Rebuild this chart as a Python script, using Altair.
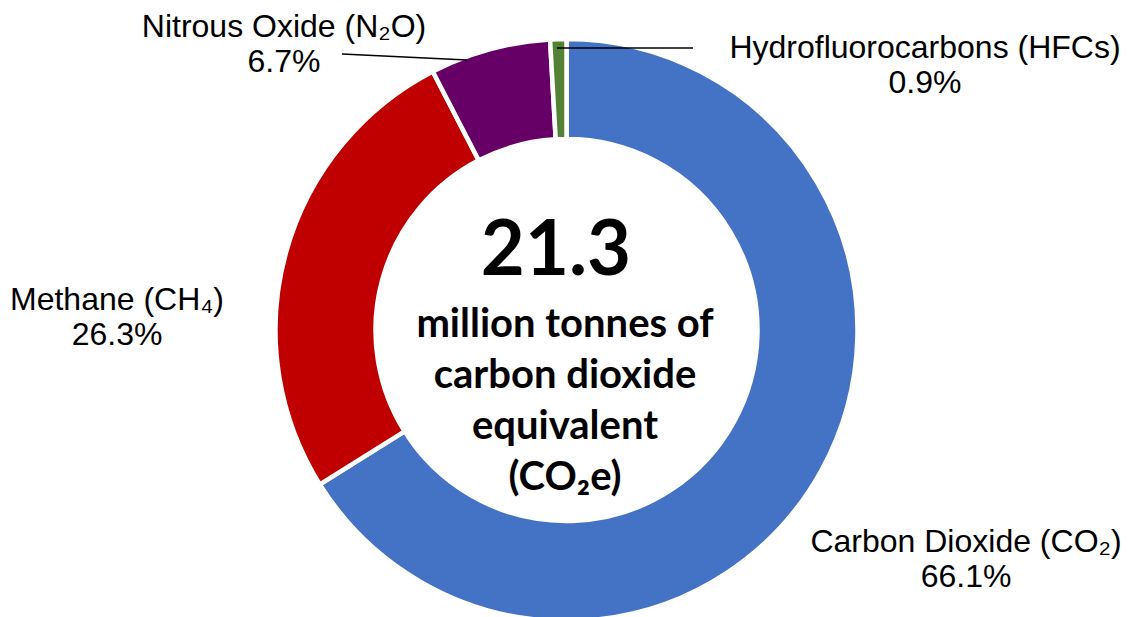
import altair as alt
import pandas as pd

# ---- data ----
gases = ["Carbon Dioxide (CO₂)", "Methane (CH₄)", "Nitrous Oxide (N₂O)", "Hydrofluorocarbons (HFCs)"]
shares = [66.1, 26.3, 6.7, 0.9]
colors = ["#4472C4", "#C00000", "#660066", "#548235"]
total_value = "21.3"
total_caption = ["million tonnes of", "carbon dioxide", "equivalent", "(CO₂e)"]

df = pd.DataFrame({
    "gas": gases,
    "share": shares,
    "order": list(range(len(gases))),
})
df["label"] = [f"{g}\n{s:.1f}%" for g, s in zip(gases, shares)]

CX, CY = 558.5, 322  # donut centre inside the plot area

donut = alt.Chart(df).mark_arc(
    innerRadius=191, outerRadius=291, stroke="white", strokeWidth=4.5
).encode(
    theta=alt.Theta("share:Q", stack=True),
    order=alt.Order("order:Q"),
    color=alt.Color("gas:N", scale=alt.Scale(domain=gases, range=colors), legend=None),
    x=alt.value(CX),
    y=alt.value(CY),
)

label_pos = {
    gases[0]: (958, 544),
    gases[1]: (109, 302),
    gases[2]: (276, 29),
    gases[3]: (917, 50),
}

labels = []
for g in gases:
    px, py = label_pos[g]
    labels.append(
        alt.Chart(df).transform_filter(alt.datum.gas == g).mark_text(
            font="Liberation Sans", fontSize=32, lineBreak="\n", lineHeight=35,
            align="center", baseline="alphabetic", color="black"
        ).encode(text="label:N", x=alt.value(px), y=alt.value(py))
    )

leader_src = pd.DataFrame({"gas": [gases[2], gases[3]]})
leader_n2o = alt.Chart(leader_src).transform_filter(alt.datum.gas == gases[2]).mark_rule(
    color="black", strokeWidth=1.3
).encode(x=alt.value(334), y=alt.value(46), x2=alt.value(459), y2=alt.value(52))
leader_hfc = alt.Chart(leader_src).transform_filter(alt.datum.gas == gases[3]).mark_rule(
    color="black", strokeWidth=1.3
).encode(x=alt.value(549), y=alt.value(40), x2=alt.value(685), y2=alt.value(40))

center_df = pd.DataFrame({"big": [total_value], "cap": ["\n".join(total_caption)]})
big = alt.Chart(center_df).mark_text(
    font="Lato", fontWeight="bold", fontSize=76, align="center", baseline="alphabetic", color="black"
).encode(text="big:N", x=alt.value(548), y=alt.value(267))
cap = alt.Chart(center_df).mark_text(
    font="Lato", fontWeight="bold", fontSize=40, lineBreak="\n", lineHeight=51,
    align="center", baseline="alphabetic", color="black"
).encode(text="cap:N", x=alt.value(557), y=alt.value(329))

chart = alt.layer(donut, leader_n2o, leader_hfc, *labels, big, cap).properties(
    width=1115, height=609, padding=0, autosize=alt.AutoSizeParams(type="none")
).configure_view(stroke=None)

chart.save("out.html", embed_options={"renderer": "svg", "actions": False})
